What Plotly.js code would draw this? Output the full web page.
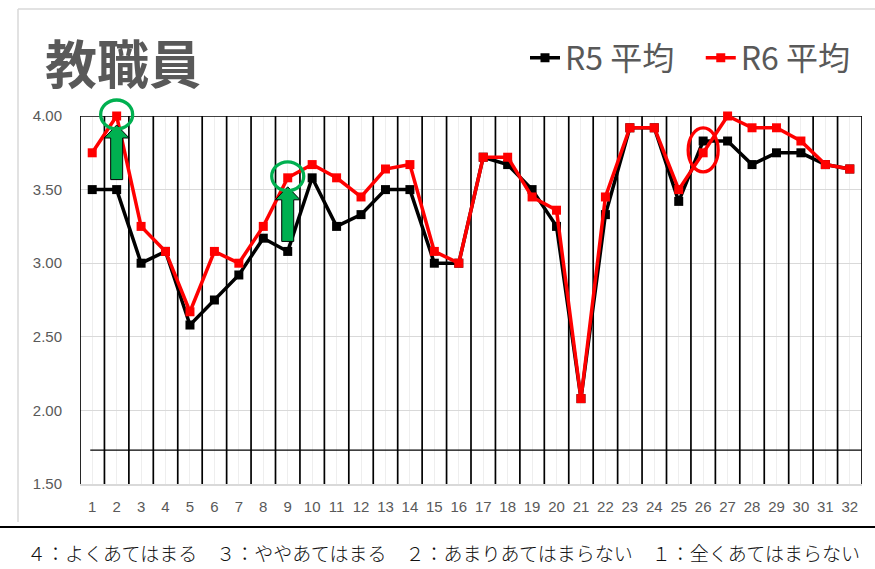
<!DOCTYPE html>
<html>
<head>
<meta charset="utf-8">
<script src="https://cdn.plot.ly/plotly-3.0.1.min.js"></script>
<style>
html,body{margin:0;padding:0;background:#fff;}
#chart{width:875px;height:569px;}
</style>
</head>
<body>
<div id="chart"></div>
<script>
// ---- data ----
const categories = Array.from({length: 32}, (_, i) => i + 1);
const tickLabels = categories.map(String);
const r5Values = [3.50,3.50,3.00,3.08,2.58,2.75,2.92,3.17,3.08,3.58,3.25,3.33,3.50,3.50,3.00,3.00,
                  3.72,3.67,3.50,3.25,2.08,3.33,3.92,3.92,3.42,3.83,3.83,3.67,3.75,3.75,3.67,3.64];
const r6Values = [3.75,4.00,3.25,3.08,2.67,3.08,3.00,3.25,3.58,3.67,3.58,3.45,3.64,3.67,3.08,3.00,
                  3.72,3.72,3.45,3.36,2.08,3.45,3.92,3.92,3.50,3.75,4.00,3.92,3.92,3.83,3.67,3.64];
const seriesNames = ['R5 平均', 'R6 平均'];
const improvedCats = [2, 9];     // green arrows + circles
const declinedCats = [26];       // red ellipse
const yTicks = [1.5, 2.0, 2.5, 3.0, 3.5, 4.0];
const refLineValue = 1.73;
const chartTitle = '教職員';
const footerText = '４：よくあてはまる　３：ややあてはまる　２：あまりあてはまらない　１：全くあてはまらない';

// ---- layout geometry ----
const W = 875, H = 569;
const M = {l: 80, r: 13, t: 116, b: 85, autoexpand: false};
const PW = W - M.l - M.r, PH = H - M.t - M.b;
const yMin = 1.5, yMax = 4.0;
const nCat = categories.length;
const pxPerUnit = PH / (yMax - yMin);
const px = x => (x - M.l) / PW;          // page px -> paper x
const py = y => (M.t + PH - y) / PH;     // page px -> paper y
const catToPaper = c => (c - 0.5) / nCat;
const valToPaper = v => (v - yMin) / (yMax - yMin);
const NB = '\u00a0';

const traces = [
  {x: categories, y: r5Values, name: seriesNames[0] + NB + NB + NB, type: 'scatter', mode: 'lines+markers',
   line: {color: '#000000', width: 3.5}, marker: {symbol: 'square', size: 9, color: '#000000'},
   cliponaxis: false},
  {x: categories, y: r6Values, name: seriesNames[1], type: 'scatter', mode: 'lines+markers',
   line: {color: '#FF0000', width: 3.5}, marker: {symbol: 'square', size: 9, color: '#FF0000'},
   cliponaxis: false}
];

const shapes = [];
// outer light frame
shapes.push({type: 'line', xref: 'paper', yref: 'paper', x0: px(18), x1: px(18), y0: py(9), y1: py(522),
             line: {color: '#d9d9d9', width: 1.5}, layer: 'above'});
shapes.push({type: 'line', xref: 'paper', yref: 'paper', x0: px(18), x1: px(880), y0: py(9), y1: py(9),
             line: {color: '#d9d9d9', width: 1.5}, layer: 'above'});
// footer separator
shapes.push({type: 'line', xref: 'paper', yref: 'paper', x0: px(-5), x1: px(880), y0: py(527), y1: py(527),
             line: {color: '#000000', width: 2}, layer: 'above'});
// black table grid over plot
for (let k = 0; k <= nCat; k++) {
  shapes.push({type: 'line', xref: 'x', yref: 'y', x0: k + 0.5, x1: k + 0.5, y0: yMin, y1: yMax,
               line: {color: '#000000', width: 1.7}, layer: 'between'});
}
shapes.push({type: 'line', xref: 'x', yref: 'y', x0: 0.5, x1: nCat + 0.5, y0: yMax, y1: yMax,
             line: {color: '#000000', width: 1.7}, layer: 'between'});
shapes.push({type: 'line', xref: 'x', yref: 'y', x0: 0.92, x1: nCat + 0.5, y0: refLineValue, y1: refLineValue,
             line: {color: '#000000', width: 1.3}, layer: 'between'});

// green arrows and circles
improvedCats.forEach(c => {
  const i = c - 1;
  const yb = r5Values[i] + 10 / pxPerUnit;
  const yt = r6Values[i] - 9 / pxPerUnit;
  const yh = yt - 13 / pxPerUnit;
  shapes.push({type: 'path', xref: 'x', yref: 'y', xsizemode: 'pixel', xanchor: c,
    path: `M -6,${yb} L 6,${yb} L 6,${yh} L 12.5,${yh} L 0,${yt} L -12.5,${yh} L -6,${yh} Z`,
    fillcolor: '#00B050', line: {color: '#000000', width: 1}, layer: 'above'});
  shapes.push({type: 'circle', xref: 'paper', yref: 'paper', xsizemode: 'pixel', ysizemode: 'pixel',
    xanchor: catToPaper(c), yanchor: valToPaper(r6Values[i]), x0: -16, x1: 16, y0: -13, y1: 16,
    line: {color: '#00B050', width: 3.3}, layer: 'above'});
});
// red ellipse
declinedCats.forEach(c => {
  const i = c - 1;
  shapes.push({type: 'circle', xref: 'paper', yref: 'paper', xsizemode: 'pixel', ysizemode: 'pixel',
    xanchor: catToPaper(c), yanchor: valToPaper((r5Values[i] + r6Values[i]) / 2), x0: -15, x1: 15, y0: -25, y1: 19,
    line: {color: '#FF0000', width: 3.3}, layer: 'above'});
});

const annotations = [
  {text: chartTitle, xref: 'paper', yref: 'paper', x: px(43), y: py(61), xanchor: 'left', yanchor: 'middle',
   showarrow: false, font: {family: 'Noto Sans CJK JP', size: 52, color: '#595959', weight: 700}},
  {text: footerText, xref: 'paper', yref: 'paper', x: px(443), y: py(552), xanchor: 'center', yanchor: 'middle',
   showarrow: false, font: {family: 'Noto Sans CJK JP', size: 19, color: '#111111', weight: 300}}
];

const layout = {
  width: W, height: H,
  margin: M,
  paper_bgcolor: '#ffffff', plot_bgcolor: '#ffffff',
  showlegend: true,
  legend: {orientation: 'h', x: px(525), xanchor: 'left', y: py(58), yanchor: 'middle',
           font: {family: 'Noto Sans CJK JP', size: 32, color: '#595959'}, bgcolor: 'rgba(0,0,0,0)',
           itemwidth: 30, tracegroupgap: 0},
  xaxis: {type: 'linear', range: [0.5, nCat + 0.5], tickvals: categories, ticktext: tickLabels,
          showgrid: true, gridcolor: '#eeeeee', gridwidth: 1, zeroline: false,
          showline: true, linecolor: '#d9d9d9', linewidth: 1.5, ticks: '', ticklabelstandoff: 8,
          tickfont: {family: 'Liberation Sans', size: 15, color: '#595959'}, fixedrange: true},
  yaxis: {range: [yMin, yMax], tickvals: yTicks, tickformat: '.2f',
          showgrid: true, gridcolor: '#d9d9d9', gridwidth: 1.3, zeroline: false, showline: false,
          ticks: '', ticklabelstandoff: 17,
          tickfont: {family: 'Liberation Sans', size: 15, color: '#595959'}, fixedrange: true},
  shapes: shapes,
  annotations: annotations
};

Plotly.newPlot('chart', traces, layout, {displayModeBar: false, staticPlot: true});
</script>
</body>
</html>
